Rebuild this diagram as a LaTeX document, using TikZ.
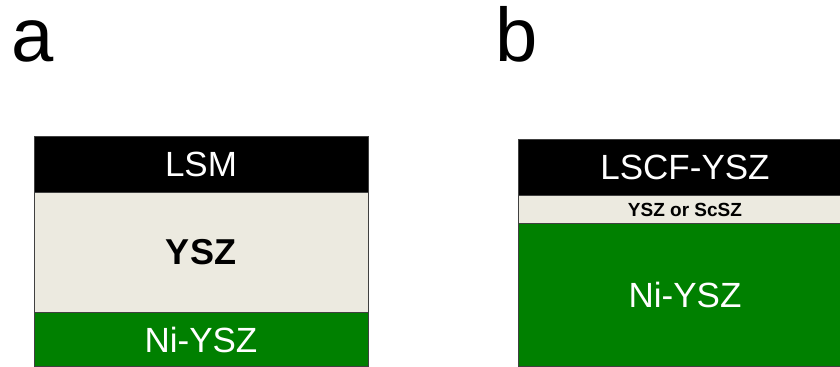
\documentclass[tikz,border=0pt]{standalone}
\usepackage{fontspec}
\setmainfont{Liberation Sans}
\definecolor{electrolyte}{RGB}{236,234,224}
\definecolor{anode}{RGB}{0,128,0}
\tikzset{
    layer/.style={rectangle, anchor=north west, inner sep=0mm, minimum width=167pt,
        draw=black!75, line width=0.5pt},
    cathode/.style={layer, fill=black, text=white, font=\fontsize{17.5}{20}\selectfont},
    elyte/.style={layer, fill=electrolyte, text=black, font=\fontsize{18}{20}\selectfont\bfseries},
    thinelyte/.style={layer, fill=electrolyte, text=black, font=\fontsize{9.5}{11}\selectfont\bfseries},
    support/.style={layer, fill=anode, text=white, font=\fontsize{17.5}{20}\selectfont},
    panel/.style={anchor=base west, inner sep=0mm, font=\fontsize{38}{40}\selectfont}
}

\begin{document}
\begin{tikzpicture}[x=0.5pt, y=-0.5pt]
    \useasboundingbox (0,0) rectangle (840,366);
    \clip (0,0) rectangle (840,366);

    % cell a
    \node (a) [panel] at (11, 61) {a};
    \node (lsm) [cathode, minimum height=28pt] at (33.5, 136) {LSM};
    \node (ysz) [elyte, minimum height=60pt] at (33.5, 192) {YSZ};
    \node (nia) [support, minimum height=27pt] at (33.5, 312) {Ni-YSZ};

    % cell b
    \node (b) [panel] at (495, 61) {b};
    \node (lscf) [cathode, minimum height=28pt] at (517.5, 139) {LSCF-YSZ};
    \node (scsz) [thinelyte, minimum height=14pt] at (517.5, 195) {YSZ or ScSZ};
    \node (nib) [support, minimum height=71.5pt] at (517.5, 223) {Ni-YSZ};
\end{tikzpicture}
\end{document}
